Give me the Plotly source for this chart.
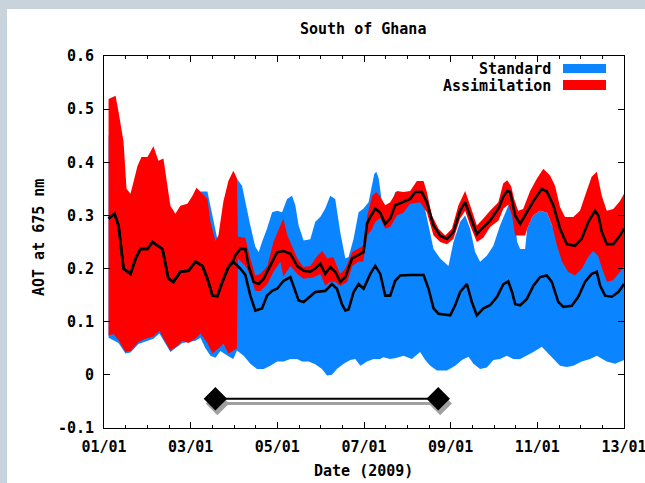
import plotly.graph_objects as go

# ---- data (x = day of 2009, y = AOT at 675 nm) ----
ASM_HI_D = [3.2, 8.1, 10.2, 13.7, 15.8, 18.6, 20.7, 23.5, 26.3, 30.5, 34.7, 38.2, 41.7, 44.5, 46.6, 50.1, 53.6, 58.6, 62.1, 64.9, 67.7, 72.6, 74.7, 78.2, 80.3, 83.8, 87.3, 90.8, 93.3, 94.0, 99.2, 102.7, 106.2, 109.7, 114.7, 118.9, 123.8, 125.9, 128.7, 132.2, 135.7, 139.9, 144.8, 149.7, 153.2, 156.7, 160.9, 165.8, 169.4, 174.3, 177.8, 182.0, 184.8, 188.3, 191.1, 193.9, 197.4, 200.9, 205.6, 210.2, 214.9, 219.6, 224.3, 226.6, 230.2, 234.8, 239.5, 244.2, 248.8, 253.5, 257.0, 261.7, 266.3, 271.0, 276.8, 280.2, 283.0, 285.8, 287.9, 290.7, 294.2, 299.1, 303.8, 308.4, 313.1, 316.6, 320.1, 323.6, 329.4, 334.1, 338.8, 342.3, 345.9, 349.4, 352.9, 357.5, 362.2, 365.0]
ASM_HI = [0.519, 0.525, 0.495, 0.439, 0.35, 0.341, 0.363, 0.393, 0.41, 0.41, 0.43, 0.403, 0.407, 0.356, 0.318, 0.303, 0.318, 0.322, 0.337, 0.352, 0.344, 0.331, 0.288, 0.252, 0.262, 0.326, 0.365, 0.384, 0.37, 0.26, 0.258, 0.219, 0.187, 0.19, 0.205, 0.25, 0.281, 0.294, 0.262, 0.241, 0.219, 0.203, 0.205, 0.224, 0.233, 0.219, 0.222, 0.19, 0.2, 0.231, 0.237, 0.243, 0.3, 0.337, 0.344, 0.335, 0.319, 0.325, 0.346, 0.344, 0.346, 0.365, 0.365, 0.344, 0.3, 0.275, 0.262, 0.275, 0.319, 0.346, 0.319, 0.281, 0.294, 0.309, 0.325, 0.36, 0.366, 0.355, 0.331, 0.309, 0.312, 0.346, 0.369, 0.388, 0.375, 0.356, 0.316, 0.297, 0.297, 0.309, 0.346, 0.373, 0.382, 0.337, 0.309, 0.312, 0.327, 0.341]

ASM_LO_D = [3.2, 6.7, 10.2, 15.1, 18.6, 24.2, 29.1, 34.7, 38.9, 43.1, 46.6, 51.5, 55.0, 59.3, 64.2, 67.7, 72.6, 76.1, 81.7, 83.8, 87.3, 90.8, 93.3, 94.0, 99.2, 102.7, 106.2, 109.7, 114.7, 118.9, 123.8, 125.9, 130.8, 135.7, 139.9, 146.9, 151.8, 155.3, 158.8, 162.3, 165.8, 170.8, 174.3, 178.5, 182.0, 184.8, 188.3, 190.4, 193.9, 197.4, 200.9, 205.6, 210.0, 214.9, 221.9, 226.6, 231.3, 236.0, 240.7, 245.3, 250.0, 253.5, 257.0, 261.7, 266.3, 271.0, 276.8, 280.4, 283.7, 286.5, 288.6, 295.6, 297.0, 301.2, 306.1, 311.0, 314.5, 318.0, 321.5, 325.7, 330.6, 335.5, 339.8, 343.3, 346.8, 349.6, 353.1, 357.3, 362.2, 365.0]
ASM_LO = [0.074, 0.077, 0.065, 0.043, 0.045, 0.062, 0.068, 0.072, 0.083, 0.062, 0.046, 0.055, 0.064, 0.06, 0.068, 0.078, 0.06, 0.04, 0.053, 0.059, 0.04, 0.046, 0.05, 0.219, 0.205, 0.187, 0.158, 0.158, 0.171, 0.194, 0.213, 0.185, 0.205, 0.19, 0.181, 0.183, 0.19, 0.168, 0.175, 0.175, 0.167, 0.175, 0.205, 0.213, 0.213, 0.262, 0.275, 0.288, 0.295, 0.275, 0.278, 0.3, 0.305, 0.322, 0.325, 0.306, 0.262, 0.25, 0.246, 0.256, 0.294, 0.309, 0.281, 0.25, 0.258, 0.278, 0.29, 0.313, 0.32, 0.3, 0.262, 0.262, 0.275, 0.30, 0.309, 0.305, 0.281, 0.243, 0.213, 0.194, 0.187, 0.2, 0.222, 0.233, 0.224, 0.2, 0.175, 0.178, 0.194, 0.205]

STD_HI_D = [3.2, 8.1, 15.1, 18.6, 25.6, 34.7, 41.7, 46.6, 53.6, 62.1, 67.7, 72.6, 76.1, 79.6, 81.7, 85.2, 90.8, 93.3, 96.9, 99.2, 102.7, 106.2, 108.6, 110.9, 114.4, 118.0, 121.5, 125.0, 128.5, 132.0, 134.3, 136.6, 140.1, 144.8, 148.3, 151.8, 155.3, 158.8, 162.3, 165.8, 169.4, 171.7, 175.2, 178.7, 182.2, 185.7, 188.1, 189.7, 191.1, 192.8, 195.3, 199.5, 204.4, 210.2, 214.9, 219.6, 224.3, 227.8, 231.3, 236.0, 241.8, 245.3, 250.0, 253.5, 257.0, 260.5, 264.0, 268.7, 273.3, 278.0, 281.6, 283.9, 285.1, 287.2, 288.6, 290.0, 292.1, 295.6, 297.0, 301.2, 306.1, 311.0, 314.5, 318.0, 321.5, 325.7, 330.6, 335.5, 339.8, 343.3, 346.8, 349.6, 353.1, 357.3, 362.2, 365.0]
STD_HI = [0.45, 0.47, 0.35, 0.32, 0.37, 0.4, 0.38, 0.3, 0.3, 0.33, 0.345, 0.345, 0.30, 0.255, 0.26, 0.32, 0.36, 0.369, 0.356, 0.325, 0.281, 0.241, 0.231, 0.25, 0.275, 0.306, 0.309, 0.306, 0.331, 0.337, 0.319, 0.281, 0.253, 0.255, 0.288, 0.297, 0.313, 0.337, 0.331, 0.269, 0.219, 0.222, 0.256, 0.306, 0.313, 0.325, 0.356, 0.378, 0.382, 0.37, 0.32, 0.3, 0.344, 0.344, 0.344, 0.335, 0.325, 0.281, 0.237, 0.219, 0.205, 0.25, 0.288, 0.3, 0.275, 0.231, 0.213, 0.224, 0.243, 0.281, 0.306, 0.319, 0.313, 0.30, 0.285, 0.25, 0.237, 0.237, 0.275, 0.30, 0.309, 0.305, 0.281, 0.26, 0.23, 0.215, 0.21, 0.22, 0.24, 0.25, 0.24, 0.22, 0.195, 0.2, 0.215, 0.225]

STD_LO_D = [3.2, 10.2, 15.1, 18.6, 24.2, 34.7, 38.9, 46.6, 55.0, 64.2, 67.7, 71.2, 74.7, 78.2, 81.7, 87.3, 90.8, 93.3, 98.0, 102.7, 107.4, 112.1, 116.8, 121.5, 126.1, 130.8, 135.5, 139.0, 143.6, 148.3, 153.0, 156.5, 160.0, 163.5, 168.2, 172.9, 176.4, 179.9, 184.6, 189.2, 193.9, 196.0, 200.9, 205.6, 210.2, 216.1, 221.9, 225.5, 229.0, 233.7, 240.7, 246.5, 251.2, 255.9, 259.3, 264.0, 268.7, 273.3, 278.0, 282.7, 287.2, 292.1, 296.8, 301.4, 307.3, 310.8, 315.4, 320.1, 324.8, 329.4, 335.3, 341.2, 345.9, 349.4, 352.9, 358.7, 365.0]
STD_LO = [0.07, 0.06, 0.04, 0.042, 0.058, 0.068, 0.078, 0.043, 0.06, 0.064, 0.07, 0.05, 0.036, 0.032, 0.045, 0.035, 0.03, 0.046, 0.036, 0.021, 0.011, 0.011, 0.017, 0.025, 0.025, 0.03, 0.03, 0.025, 0.025, 0.02, 0.011, -0.001, 0.0, 0.011, 0.021, 0.028, 0.03, 0.017, 0.025, 0.03, 0.03, 0.033, 0.03, 0.032, 0.036, 0.03, 0.043, 0.028, 0.017, 0.008, 0.008, 0.017, 0.028, 0.034, 0.021, 0.011, 0.014, 0.028, 0.03, 0.036, 0.03, 0.03, 0.036, 0.043, 0.053, 0.043, 0.03, 0.017, 0.015, 0.017, 0.025, 0.03, 0.036, 0.03, 0.025, 0.021, 0.028]

ASM_MEAN_D = [3.2, 7.4, 10.2, 13.7, 18.6, 22.1, 25.6, 30.5, 34.0, 37.5, 41.0, 45.2, 48.7, 53.6, 59.3, 64.2, 69.1, 72.6, 76.1, 79.6, 83.1, 87.3, 90.8, 92.2, 95.7, 99.2, 101.5, 105.0, 108.6, 112.1, 116.8, 121.5, 126.1, 130.8, 135.5, 140.1, 144.8, 148.3, 151.8, 155.3, 158.8, 162.3, 165.8, 169.4, 174.1, 177.6, 182.2, 184.6, 186.9, 190.4, 193.9, 197.4, 200.9, 204.4, 210.2, 214.9, 218.4, 223.1, 226.6, 231.3, 236.0, 240.7, 245.3, 250.0, 253.5, 257.0, 261.7, 266.3, 271.0, 277.3, 280.2, 283.0, 285.1, 288.6, 292.1, 296.8, 301.4, 307.3, 310.8, 315.4, 320.1, 324.8, 330.6, 335.3, 340.0, 344.7, 347.0, 349.4, 352.9, 357.5, 362.2, 365.0]
ASM_MEAN = [0.294, 0.303, 0.281, 0.2, 0.19, 0.218, 0.237, 0.237, 0.25, 0.243, 0.237, 0.181, 0.175, 0.194, 0.196, 0.213, 0.205, 0.181, 0.149, 0.148, 0.175, 0.203, 0.215, 0.225, 0.237, 0.237, 0.205, 0.175, 0.171, 0.181, 0.205, 0.231, 0.233, 0.228, 0.205, 0.196, 0.194, 0.2, 0.209, 0.19, 0.203, 0.194, 0.175, 0.184, 0.219, 0.224, 0.231, 0.284, 0.297, 0.313, 0.305, 0.284, 0.294, 0.319, 0.325, 0.331, 0.344, 0.344, 0.325, 0.281, 0.262, 0.256, 0.269, 0.309, 0.325, 0.3, 0.265, 0.278, 0.29, 0.315, 0.335, 0.346, 0.344, 0.3, 0.284, 0.306, 0.327, 0.35, 0.345, 0.319, 0.275, 0.246, 0.243, 0.256, 0.288, 0.309, 0.3, 0.269, 0.246, 0.246, 0.262, 0.275]

STD_MEAN_D = [3.2, 7.4, 10.2, 13.7, 18.6, 22.1, 25.6, 30.5, 34.0, 37.5, 41.0, 45.2, 48.7, 53.6, 59.3, 64.2, 69.1, 72.6, 76.1, 79.6, 83.1, 87.3, 90.8, 92.2, 95.7, 99.2, 102.7, 106.2, 110.9, 114.4, 118.0, 121.5, 126.1, 130.8, 133.1, 136.6, 140.1, 144.8, 148.3, 155.3, 160.0, 163.5, 167.0, 169.4, 171.7, 175.2, 178.7, 182.2, 186.9, 190.4, 193.9, 197.4, 200.9, 204.4, 207.9, 214.9, 224.3, 227.8, 231.3, 234.8, 243.0, 246.5, 250.0, 254.7, 258.2, 261.7, 266.3, 271.0, 275.9, 280.2, 283.7, 286.5, 288.6, 292.1, 296.8, 301.4, 306.1, 310.8, 314.3, 318.9, 322.4, 328.3, 332.9, 337.6, 342.3, 345.9, 348.2, 351.7, 356.4, 361.0, 365.0]
STD_MEAN = [0.294, 0.303, 0.281, 0.2, 0.19, 0.218, 0.237, 0.237, 0.25, 0.243, 0.237, 0.181, 0.175, 0.194, 0.196, 0.213, 0.205, 0.181, 0.149, 0.148, 0.175, 0.203, 0.212, 0.209, 0.2, 0.188, 0.149, 0.121, 0.125, 0.149, 0.158, 0.162, 0.177, 0.184, 0.168, 0.14, 0.137, 0.147, 0.156, 0.158, 0.171, 0.162, 0.133, 0.121, 0.123, 0.156, 0.171, 0.162, 0.19, 0.205, 0.19, 0.149, 0.149, 0.177, 0.187, 0.188, 0.188, 0.162, 0.125, 0.115, 0.112, 0.131, 0.156, 0.171, 0.137, 0.112, 0.125, 0.131, 0.147, 0.17, 0.176, 0.155, 0.133, 0.131, 0.143, 0.168, 0.184, 0.187, 0.175, 0.137, 0.128, 0.13, 0.147, 0.175, 0.19, 0.194, 0.168, 0.149, 0.147, 0.156, 0.171]

PERIOD_D = [78.2, 234.6]        # marked period (days)
PERIOD_Y = [-0.045, -0.045]

X_TICKS = [0, 365 / 6, 2 * 365 / 6, 3 * 365 / 6, 4 * 365 / 6, 5 * 365 / 6, 365]
X_LABELS = ["01/01", "03/01", "05/01", "07/01", "09/01", "11/01", "13/01"]
Y_TICKS = [-0.1, 0, 0.1, 0.2, 0.3, 0.4, 0.5, 0.6]
Y_LABELS = ["-0.1", "0", "0.1", "0.2", "0.3", "0.4", "0.5", "0.6"]

BLUE = "#0a84ff"
RED = "#ff0000"
FONT = "DejaVu Sans Mono"

fig = go.Figure()

# Standard band
fig.add_trace(go.Scatter(
    x=STD_HI_D + STD_LO_D[::-1], y=STD_HI + STD_LO[::-1],
    fill="toself", fillcolor=BLUE, line=dict(width=0), mode="lines",
    hoverinfo="skip", showlegend=False, name="Standard"))
# Assimilation band
fig.add_trace(go.Scatter(
    x=ASM_HI_D + ASM_LO_D[::-1], y=ASM_HI + ASM_LO[::-1],
    fill="toself", fillcolor=RED, line=dict(width=0), mode="lines",
    hoverinfo="skip", showlegend=False, name="Assimilation"))
# mean lines
fig.add_trace(go.Scatter(x=STD_MEAN_D, y=STD_MEAN, mode="lines",
                         line=dict(color="black", width=2.6), showlegend=False))
fig.add_trace(go.Scatter(x=ASM_MEAN_D, y=ASM_MEAN, mode="lines",
                         line=dict(color="black", width=2.6), showlegend=False))

# period marker with shadow
SH_DX, SH_DY = 1.4, -0.009
fig.add_trace(go.Scatter(x=[d + SH_DX for d in PERIOD_D], y=[v + SH_DY for v in PERIOD_Y],
                         mode="lines+markers",
                         line=dict(color="#a0a0a0", width=3),
                         marker=dict(symbol="diamond", size=18, color="#a0a0a0"),
                         showlegend=False))
fig.add_trace(go.Scatter(x=PERIOD_D, y=PERIOD_Y, mode="lines+markers",
                         line=dict(color="black", width=2),
                         marker=dict(symbol="diamond", size=18, color="black"),
                         showlegend=False))

FS = 15
axis_font = dict(family=FONT, size=FS, color="black", weight="bold")

fig.update_xaxes(range=[0, 365], tickmode="array", tickvals=X_TICKS, ticktext=X_LABELS,
                 ticks="inside", ticklen=6, tickwidth=1, tickcolor="black",
                 minor=dict(dtick=365 / 24, tick0=0, ticks="inside", ticklen=3,
                            tickcolor="black", showgrid=False),
                 mirror="ticks", showline=True, linecolor="black", linewidth=1,
                 showgrid=False, zeroline=False, tickfont=axis_font,
                 ticklabelstandoff=5, ticklabeloverflow="allow", automargin=False)
fig.update_yaxes(range=[-0.1, 0.6], tickmode="array", tickvals=Y_TICKS, ticktext=Y_LABELS,
                 ticks="inside", ticklen=6, tickwidth=1, tickcolor="black",
                 mirror="ticks", showline=True, linecolor="black", linewidth=1,
                 showgrid=False, zeroline=False, tickfont=axis_font,
                 ticklabelstandoff=6, ticklabeloverflow="allow", automargin=False)

W, H = 645, 483
L, R, T, B = 104, 21, 56, 55
pw, ph = W - L - R, H - T - B

def px(x):
    return (x - L) / pw

def py(y):
    return (H - B - y) / ph

shapes = [
    # outer light frame (left and top strips)
    dict(type="rect", xref="paper", yref="paper", x0=px(-5), x1=px(7), y0=py(490), y1=py(-5),
         fillcolor="#c8d3db", line=dict(width=0), layer="below"),
    dict(type="rect", xref="paper", yref="paper", x0=px(-5), x1=px(650), y0=py(9), y1=py(-5),
         fillcolor="#c8d3db", line=dict(width=0), layer="below"),
    # legend swatches
    dict(type="rect", xref="paper", yref="paper", x0=px(563), x1=px(606), y0=py(73), y1=py(64),
         fillcolor=BLUE, line=dict(width=0)),
    dict(type="rect", xref="paper", yref="paper", x0=px(563), x1=px(606), y0=py(90), y1=py(80),
         fillcolor=RED, line=dict(width=0)),
]

label_font = dict(family=FONT, size=FS, color="black", weight="bold")
annotations = [
    dict(text="South of Ghana", xref="paper", yref="paper", x=px(363), y=py(29),
         showarrow=False, font=label_font, xanchor="center", yanchor="middle"),
    dict(text="AOT at 675 nm", xref="paper", yref="paper", x=px(39), y=py(238),
         showarrow=False, font=label_font, textangle=-90, xanchor="center", yanchor="middle"),
    dict(text="Date (2009)", xref="paper", yref="paper", x=px(363), y=py(471),
         showarrow=False, font=label_font, xanchor="center", yanchor="middle"),
    dict(text="Standard", xref="paper", yref="paper", x=px(553), y=py(69),
         showarrow=False, font=label_font, xanchor="right", yanchor="middle"),
    dict(text="Assimilation", xref="paper", yref="paper", x=px(553), y=py(86),
         showarrow=False, font=label_font, xanchor="right", yanchor="middle"),
]

fig.update_layout(width=W, height=H, margin=dict(l=L, r=R, t=T, b=B, pad=0, autoexpand=False),
                  paper_bgcolor="white", plot_bgcolor="white",
                  shapes=shapes, annotations=annotations, showlegend=False)

fig.write_html("out.html")
